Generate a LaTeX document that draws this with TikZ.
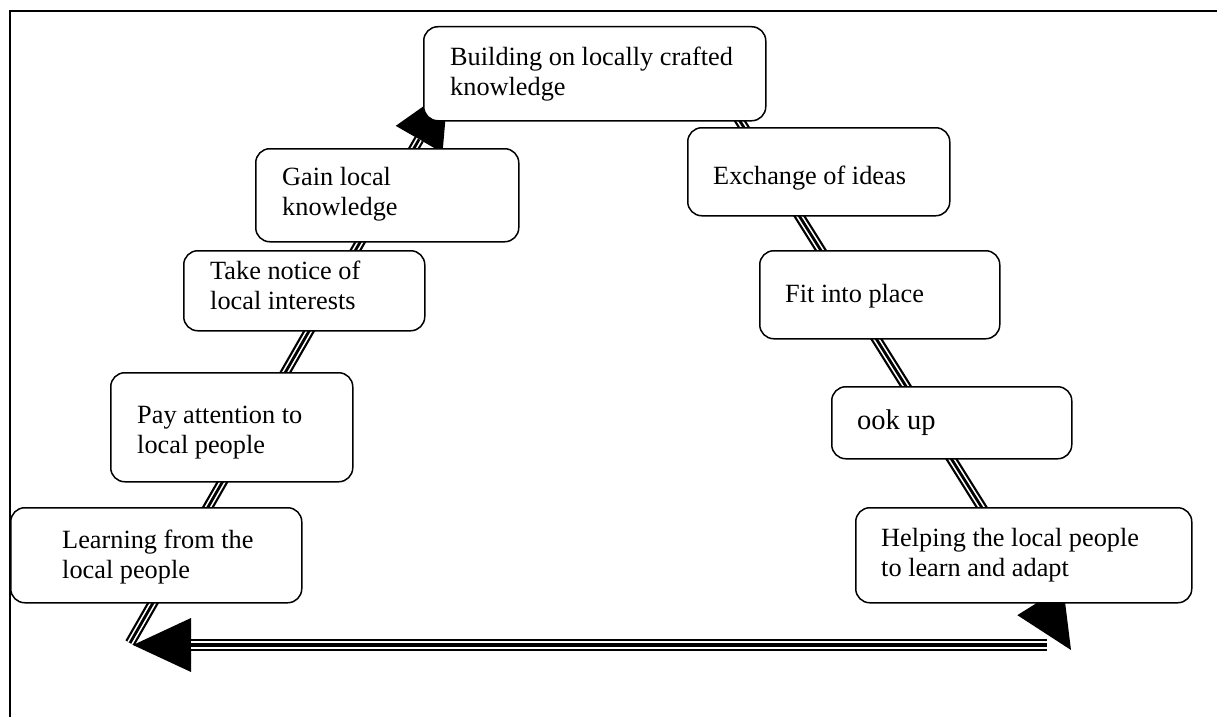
\documentclass[tikz,border=0pt]{standalone}
\usepackage{fontspec}
\setmainfont{Liberation Serif}
\usetikzlibrary{arrows.meta}
% three-stripe connector: black band, white gap, black core;
% #3 picks the stripe weights (slim or wide)
\newcommand\tripleconn[3]{%
  \draw[#3 outer] (#1) -- (#2);
  \draw[#3 gap] (#1) -- (#2);
  \draw[#3 core] (#1) -- (#2);}
\begin{document}
\begin{tikzpicture}[x=1pt,y=-1pt,
  stepbox/.style={draw, line width=1.5pt, rounded corners=14pt, fill=white,
    anchor=north west, inner sep=0pt},
  % base west sits on the baseline of the last line
  steptext/.style={anchor=base west, align=left, inner sep=0pt,
    font=\fontsize{26.3}{30}\selectfont},
  bighead/.style={-{Triangle[length=58pt,width=54pt,line width=0pt]}},
  slim outer/.style={line width=10.5pt, bighead},
  slim gap/.style={line width=6pt, draw=white, shorten >=58pt},
  slim core/.style={line width=2.8pt, shorten >=58pt},
  wide outer/.style={line width=12.5pt, bighead},
  wide gap/.style={line width=8.5pt, draw=white, shorten >=58pt},
  wide core/.style={line width=4.5pt, shorten >=58pt},
  outerframe/.style={line width=2.5pt}]
\useasboundingbox (0,0) rectangle (1217,717);
% page frame, top and left edges
\draw[outerframe] (10,717) -- (10,11) -- (1217,11);

% ends of the cycle connectors
\coordinate (lowL) at (130,643);
\coordinate (topL) at (448,89);
\coordinate (topR) at (733,110);
\coordinate (lowR) at (1071,650);
\coordinate (baseR) at (1047,645);
\coordinate (baseL) at (133,645);

\tripleconn{lowL}{topL}{slim}
\tripleconn{baseR}{baseL}{wide}
\tripleconn{topR}{lowR}{slim}

% boxes
\node[stepbox, minimum width=342pt, minimum height=94pt] (b1) at (423,26) {};
\node[stepbox, minimum width=263pt, minimum height=93pt] (b2) at (255,148) {};
\node[stepbox, minimum width=241pt, minimum height=80pt] (b3) at (183,250) {};
\node[stepbox, minimum width=242pt, minimum height=109pt] (b4) at (110,372) {};
\node[stepbox, minimum width=291pt, minimum height=95pt] (b5) at (10,507) {};
\node[stepbox, minimum width=262pt, minimum height=88pt] (b6) at (687,127) {};
\node[stepbox, minimum width=240pt, minimum height=88pt] (b7) at (759,250) {};
\node[stepbox, minimum width=240pt, minimum height=72pt] (b8) at (831,386) {};
\node[stepbox, minimum width=336pt, minimum height=95pt] (b9) at (855,507) {};

% box texts
\node[steptext] (t1) at (450,95) {Building on locally crafted\\knowledge};
\node[steptext] (t2) at (282,215) {Gain local\\knowledge};
\node[steptext] (t3) at (210,309) {Take notice of\\local interests};
\node[steptext] (t4) at (137,453) {Pay attention to\\local people};
\node[steptext] (t5) at (62,578) {Learning from the\\local people};
\node[steptext] (t6) at (713,184) {Exchange of ideas};
\node[steptext] (t7) at (785,302) {Fit into place};
\node[steptext, font=\fontsize{28.5}{32}\selectfont] (t8) at (857,429) {ook up};
\node[steptext] (t9) at (881,576) {Helping the local people\\to learn and adapt};
\end{tikzpicture}
\end{document}
